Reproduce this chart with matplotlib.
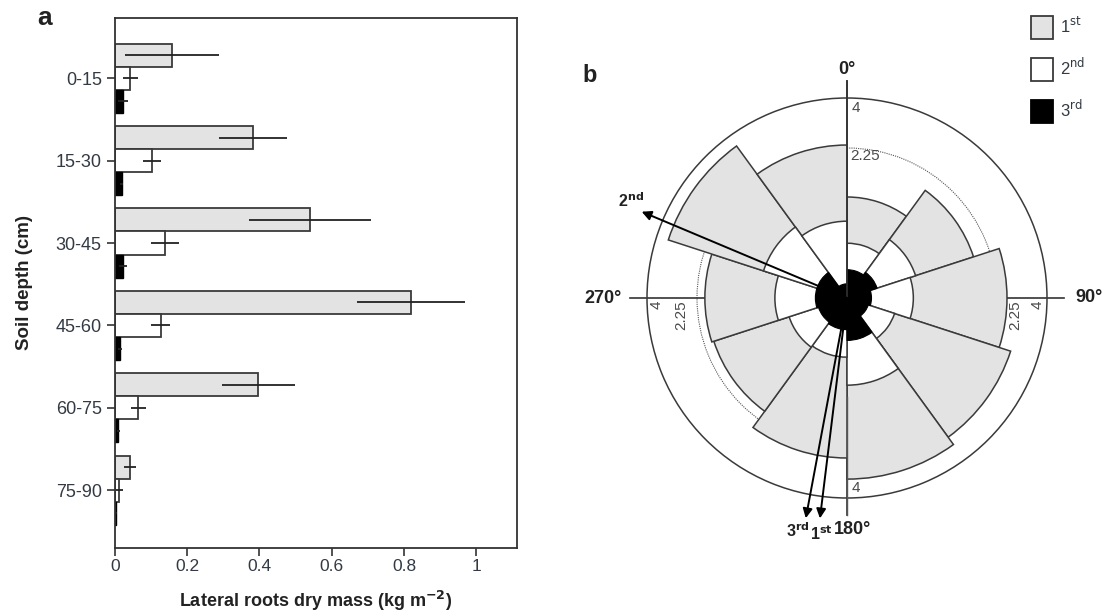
import numpy as np
import matplotlib
matplotlib.use("Agg")
import matplotlib.pyplot as plt
from matplotlib.patches import Patch

plt.rcParams['font.family'] = ['Liberation Sans', 'DejaVu Sans']

# ---------------- Panel a data ----------------
depths = ['0-15', '15-30', '30-45', '45-60', '60-75', '75-90']
first = [0.158, 0.382, 0.540, 0.819, 0.397, 0.042]
first_err = [0.130, 0.095, 0.170, 0.150, 0.100, 0.017]
second = [0.042, 0.102, 0.138, 0.126, 0.065, 0.012]
second_err = [0.021, 0.025, 0.038, 0.026, 0.020, 0.010]
third = [0.023, 0.018, 0.022, 0.014, 0.009, 0.004]
third_err = [0.014, 0.004, 0.010, 0.005, 0.004, 0.002]
xticks_a = [0, 0.2, 0.4, 0.6, 0.8, 1.0]
xtick_labels_a = ['0', '0.2', '0.4', '0.6', '0.8', '1']

# ---------------- Panel b data ----------------
sector_start = [0, 36, 72, 108, 144, 180, 216, 252, 288, 324]   # degrees
rose_first = [1.02, 1.77, 2.56, 2.96, 3.28, 2.56, 1.96, 2.02, 3.53, 2.34]
rose_second = [0.30, 0.52, 0.44, 0.25, 0.76, 0.35, 0.37, 0.52, 0.77, 0.59]
rose_third = [0.08, 0.10, 0.06, 0.05, 0.18, 0.10, 0.09, 0.10, 0.10, 0.02]
rose_rings = [2.25, 4]
arrow_names = ['1$^{\\mathbf{st}}$', '2$^{\\mathbf{nd}}$', '3$^{\\mathbf{rd}}$']
arrow_dir = [187.0, 292.8, 190.6]   # degrees, clockwise from north
arrow_len = [4.93, 4.96, 5.02]

GRAY = '#e3e3e3'
EDGE = '#3a3a3a'
TXT = '#333a44'

fig = plt.figure(figsize=(11.04, 6.16), dpi=100)

# ================= Panel a =================
axa = fig.add_axes([115 / 1104, 68 / 616, 402 / 1104, 530 / 616])
y = np.arange(len(depths))
h = 0.28
off = 0.28
ekw = dict(ecolor='#222222', elinewidth=1.3, capsize=0)
axa.barh(y - off, first, height=h, color=GRAY, edgecolor=EDGE, linewidth=1.3,
         xerr=first_err, error_kw=ekw, zorder=2)
axa.barh(y, second, height=h, color='white', edgecolor=EDGE, linewidth=1.3,
         xerr=second_err, error_kw=ekw, zorder=2)
axa.barh(y + off, third, height=h, color='black', edgecolor='black', linewidth=1.0,
         xerr=third_err, error_kw=ekw, zorder=2)
axa.set_ylim(len(depths) - 1 + 0.70, -0.73)
axa.set_xlim(0, 1.113)
axa.set_yticks(y)
axa.set_yticklabels(depths, fontsize=13, color=TXT)
axa.set_xticks(xticks_a)
axa.set_xticklabels(xtick_labels_a, fontsize=12.5, color=TXT)
axa.tick_params(axis='both', direction='out', length=6, width=1.2, color='#333333')
axa.tick_params(axis='x', pad=2)
for s in axa.spines.values():
    s.set_linewidth(1.3)
    s.set_color('#333333')
axa.set_xlabel('Lateral roots dry mass (kg m$^{\\mathbf{-2}}$)', fontsize=13,
               fontweight='bold', color='#222222', labelpad=11)
axa.set_ylabel('Soil depth (cm)', fontsize=13.5, fontweight='bold', color='#222222',
               labelpad=16)
fig.text(45 / 1104, 1 - 18 / 616, 'a', fontsize=19, fontweight='bold',
         ha='center', va='center', color='#222222')

# ================= Panel b =================
axb = fig.add_axes([647 / 1104, 118 / 616, 400 / 1104, 400 / 616], projection='polar')
axb.set_theta_zero_location('N')
axb.set_theta_direction(-1)
axb.set_rscale('function', functions=(lambda r: np.sqrt(np.maximum(r, 0)),
                                      lambda r: np.square(r)))
axb.set_rlim(0, rose_rings[1])

theta0 = np.deg2rad(sector_start)
w = np.deg2rad(36)
axb.bar(theta0, rose_first, width=w, bottom=0, align='edge', color=GRAY,
        edgecolor=EDGE, linewidth=1.1, zorder=3)
axb.bar(theta0, rose_second, width=w, bottom=0, align='edge', color='white',
        edgecolor=EDGE, linewidth=1.1, zorder=4)
axb.bar(theta0, rose_third, width=w, bottom=0, align='edge', color='black',
        edgecolor='black', linewidth=0.8, zorder=5)

# grid: dotted ring at 2.25, no theta grid
axb.set_xticks([])
axb.set_yticks([rose_rings[0]])
axb.set_yticklabels([])
axb.yaxis.grid(True, linestyle=(0, (1, 1)), color='#555555', linewidth=0.8)
axb.xaxis.grid(False)
axb.set_axisbelow(True)
axb.spines['polar'].set_color('#3a3a3a')
axb.spines['polar'].set_linewidth(1.1)

# axis cross lines (extend beyond the outer ring)
for ang in [0, 90, 180, 270]:
    axb.plot([np.deg2rad(ang), np.deg2rad(ang)], [0, 4.7], color='#333333',
             lw=1.2, zorder=2, clip_on=False)
axb.plot([0, 0], [0, 4.7], color='#333333', lw=1.2, zorder=6, clip_on=False)
axb.plot([np.pi, np.pi], [rose_first[4] * 0.3, 4.7], color='#555555', lw=1.0,
         zorder=3.5, clip_on=False)

# direction labels
dir_labels = [('0°', 0, 5.2), ('90°', 90, 5.85), ('270°', 270, 5.95)]
for txt, ang, rr in dir_labels:
    axb.text(np.deg2rad(ang), rr, txt, fontsize=13, fontweight='bold',
             ha='center', va='center', color='#222222', clip_on=False)
axb.annotate('180°', xy=(np.pi, 5.34), xytext=(4, 0), textcoords='offset points',
             fontsize=13, fontweight='bold', ha='center', va='center',
             color='#222222', annotation_clip=False)

# ring labels
rl = dict(fontsize=11, color='#4a4a4a', textcoords='offset points', annotation_clip=False)
axb.annotate('4', xy=(0, 4), xytext=(3, -2), ha='left', va='top', zorder=7, **rl)
axb.annotate('2.25', xy=(0, 2.25), xytext=(2, -1), ha='left', va='top', zorder=7, **rl)
axb.annotate('4', xy=(np.pi, 4), xytext=(3, 2), ha='left', va='bottom', zorder=7, **rl)
axb.annotate('4', xy=(np.pi / 2, 4), xytext=(-2, -2), ha='right', va='top',
             rotation=90, zorder=7, **rl)
axb.annotate('2.25', xy=(np.pi / 2, 2.25), xytext=(8, -2), ha='left', va='top',
             rotation=90, zorder=7, **rl)
axb.annotate('4', xy=(3 * np.pi / 2, 4), xytext=(2, -2), ha='left', va='top',
             rotation=90, zorder=7, **rl)
axb.annotate('2.25', xy=(3 * np.pi / 2, 2.25), xytext=(-6, -2), ha='right', va='top',
             rotation=90, zorder=7, **rl)

# mean-direction arrows
label_off = [(1, -11), (-8, 8), (-6, -9)]
for name, ang, ln, lo in zip(arrow_names, arrow_dir, arrow_len, label_off):
    th = np.deg2rad(ang)
    axb.annotate('', xy=(th, ln), xytext=(th, 0.0), annotation_clip=False,
                 arrowprops=dict(arrowstyle='-|>', color='black', lw=1.4,
                                 mutation_scale=14, shrinkA=0, shrinkB=0),
                 zorder=8)
    axb.annotate(name, xy=(th, ln), xytext=lo, textcoords='offset points',
                 ha='center', va='center', fontsize=11.5, fontweight='bold',
                 color='#222222', annotation_clip=False, zorder=8)

fig.text(590 / 1104, 1 - 76 / 616, 'b', fontsize=17, fontweight='bold',
         ha='center', va='center', color='#222222')

# legend
handles = [Patch(facecolor=GRAY, edgecolor=EDGE, linewidth=1.3),
           Patch(facecolor='white', edgecolor=EDGE, linewidth=1.3),
           Patch(facecolor='black', edgecolor='black', linewidth=1.3)]
labels = ['1$^{\\mathrm{st}}$', '2$^{\\mathrm{nd}}$', '3$^{\\mathrm{rd}}$']
fig.legend(handles, labels, loc='upper left', bbox_to_anchor=(1019 / 1104, 1 - 4 / 616),
           frameon=False, fontsize=12, handlelength=1.35, handleheight=1.75,
           labelspacing=1.05, handletextpad=0.4, borderpad=0.2,
           labelcolor=TXT)

fig.savefig('out.png', dpi=100)
